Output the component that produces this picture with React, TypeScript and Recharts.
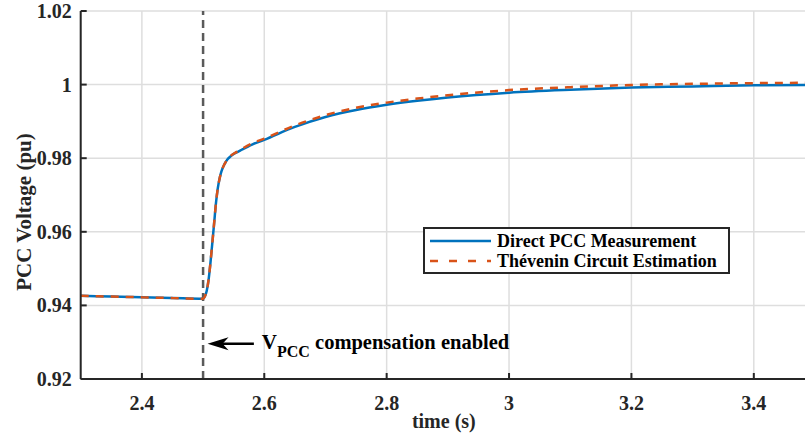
import { FC } from "react";
import {
  LineChart,
  Line,
  XAxis,
  YAxis,
  CartesianGrid,
  ReferenceLine,
  Legend,
} from "recharts";

// time axis (s) and the two voltage traces (pu)
const timeS = [
  2.3, 2.35, 2.4, 2.45, 2.5, 2.503, 2.506, 2.509, 2.512, 2.515, 2.518, 2.521,
  2.524, 2.527, 2.53, 2.535, 2.54, 2.547, 2.555, 2.563, 2.58, 2.6, 2.65, 2.7,
  2.75, 2.8, 2.85, 2.9, 3.0, 3.1, 3.2, 3.3, 3.4, 3.5,
];
const directPcc = [
  0.9426, 0.9424, 0.9422, 0.942, 0.9418, 0.9425, 0.944, 0.947, 0.9515, 0.9568,
  0.9622, 0.9677, 0.9718, 0.9745, 0.9764, 0.9784, 0.9797, 0.9808, 0.9816,
  0.9823, 0.9837, 0.985, 0.9885, 0.9912, 0.9931, 0.9945, 0.9956, 0.9965,
  0.9978, 0.9986, 0.9992, 0.9995, 0.9998, 0.9999,
];
const theveninEst = [
  0.9426, 0.9424, 0.9422, 0.942, 0.9418, 0.9425, 0.944, 0.947, 0.9515, 0.9568,
  0.9622, 0.9677, 0.9718, 0.9745, 0.9764, 0.9784, 0.9797, 0.9809, 0.9817,
  0.9825, 0.984, 0.9853, 0.9889, 0.9917, 0.9937, 0.9951, 0.9962, 0.9971,
  0.9985, 0.9993, 0.9999, 1.0002, 1.0004, 1.0005,
];
const xTicks = [2.4, 2.6, 2.8, 3, 3.2, 3.4];
const yTicks = [0.92, 0.94, 0.96, 0.98, 1, 1.02];
const seriesNames = ["Direct PCC Measurement", "Thévenin Circuit Estimation"];
const compensationTime = 2.5;
const arrowFrom = { x: 2.583, y: 0.9296 };
const arrowTo = { x: 2.5073, y: 0.9296 };

const data = timeS.map((t, i) => ({
  t,
  direct: directPcc[i],
  thevenin: theveninEst[i],
}));

const FONT = '"Liberation Serif", "Times New Roman", serif';
const AXIS = "#262626";
const TICK_LEN = 6;
const X_TICK_MARGIN = 17;
const Y_TICK_MARGIN = 9;

const BottomTick = (props: any) => {
  const { x, y, payload } = props;
  const axisY = y - X_TICK_MARGIN;
  return (
    <g>
      <line x1={x} y1={axisY} x2={x} y2={axisY - TICK_LEN} stroke={AXIS} strokeWidth={2} />
      <text x={x} y={y} dy="0.7em" textAnchor="middle" fontFamily={FONT} fontWeight="bold" fontSize={20} fill={AXIS}>
        {payload.value}
      </text>
    </g>
  );
};

const TopTick = (props: any) => {
  const { x, y } = props;
  return <line x1={x} y1={y} x2={x} y2={y + TICK_LEN} stroke={AXIS} strokeWidth={2} />;
};

const LeftTick = (props: any) => {
  const { x, y, payload } = props;
  const axisX = x + Y_TICK_MARGIN;
  return (
    <g>
      <line x1={axisX} y1={y} x2={axisX + TICK_LEN} y2={y} stroke={AXIS} strokeWidth={2} />
      <text x={x} y={y} dy="0.35em" textAnchor="end" fontFamily={FONT} fontWeight="bold" fontSize={20} fill={AXIS}>
        {payload.value}
      </text>
    </g>
  );
};

const renderArrow = (props: any) => {
  const { x1, y1, x2, y2 } = props;
  return (
    <g>
      <line x1={x1} y1={y1} x2={x2 + 14} y2={y2} stroke="#000" strokeWidth={2.5} />
      <polygon
        points={`${x2},${y2} ${x2 + 21},${y2 - 6.5} ${x2 + 15},${y2} ${x2 + 21},${y2 + 6.5}`}
        fill="#000"
      />
      <text x={x1 + 8} y={y1 + 5} fontFamily={FONT} fontWeight="bold" fontSize={21} fill="#000">
        V
        <tspan dy={8} fontSize={16}>PCC</tspan>
        <tspan dy={-8} fontSize={20.5}> compensation enabled</tspan>
      </text>
    </g>
  );
};

const renderLegend = (props: any) => {
  const { payload } = props;
  return (
    <div
      style={{
        boxSizing: "border-box",
        width: 307,
        height: 47,
        border: `2px solid ${AXIS}`,
        background: "#fff",
        paddingTop: 2,
        fontFamily: FONT,
        fontWeight: "bold",
        fontSize: 18,
        color: "#000",
      }}
    >
      {(payload || []).map((entry: any) => (
        <div key={entry.value} style={{ display: "flex", alignItems: "center", height: 20, paddingLeft: 5 }}>
          <svg width={61} height={6} style={{ marginRight: 6, flexShrink: 0 }}>
            <line
              x1={0}
              y1={3}
              x2={61}
              y2={3}
              stroke={entry.color}
              strokeWidth={2.5}
              strokeDasharray={entry.payload?.strokeDasharray ? "8 11" : undefined}
            />
          </svg>
          <span style={{ whiteSpace: "nowrap", lineHeight: "20px" }}>{entry.value}</span>
        </div>
      ))}
    </div>
  );
};

const App: FC = () => {
  return (
    <div
      style={{
        position: "fixed",
        left: 0,
        top: 0,
        width: 805,
        height: 435,
        overflow: "hidden",
        background: "#fff",
      }}
    >
      <LineChart
        width={830}
        height={435}
        data={data}
        margin={{ top: 11, right: 15, left: 0, bottom: 26 }}
      >
        <CartesianGrid stroke="#dedede" strokeWidth={1.5} />
        <XAxis
          dataKey="t"
          type="number"
          domain={[2.3, 3.5]}
          ticks={xTicks}
          allowDataOverflow
          height={30}
          tickLine={false}
          tickSize={0}
          tickMargin={X_TICK_MARGIN}
          tick={<BottomTick />}
          axisLine={{ stroke: AXIS, strokeWidth: 2 }}
          label={(p: any) => (
            <text
              x={p.viewBox.x + p.viewBox.width / 2 - 4}
              y={428}
              textAnchor="middle"
              fontFamily={FONT}
              fontWeight="bold"
              fontSize={20}
              fill={AXIS}
            >
              time (s)
            </text>
          )}
        />
        <XAxis
          xAxisId="top"
          orientation="top"
          dataKey="t"
          type="number"
          domain={[2.3, 3.5]}
          ticks={xTicks}
          allowDataOverflow
          height={0}
          tickLine={false}
          tickSize={0}
          tickMargin={0}
          tick={<TopTick />}
          axisLine={{ stroke: AXIS, strokeWidth: 2 }}
        />
        <YAxis
          type="number"
          domain={[0.92, 1.02]}
          ticks={yTicks}
          allowDataOverflow
          width={80.7}
          tickLine={false}
          tickSize={0}
          tickMargin={Y_TICK_MARGIN}
          tick={<LeftTick />}
          axisLine={{ stroke: AXIS, strokeWidth: 2 }}
          label={() => (
            <text
              x={31}
              y={212}
              transform="rotate(-90 31 212)"
              textAnchor="middle"
              fontFamily={FONT}
              fontWeight="bold"
              fontSize={21}
              fill={AXIS}
            >
              PCC Voltage (pu)
            </text>
          )}
        />
        <ReferenceLine
          x={compensationTime}
          stroke="#5a5a5a"
          strokeWidth={2.5}
          strokeDasharray="8 5"
        />
        <ReferenceLine
          segment={[arrowFrom, arrowTo]}
          stroke="#000"
          shape={renderArrow}
        />
        <Legend
          layout="horizontal"
          verticalAlign="middle"
          align="center"
          content={renderLegend}
          wrapperStyle={{ left: 423, top: 227, width: 307, height: 47 }}
        />
        <Line
          type="monotone"
          dataKey="direct"
          name={seriesNames[0]}
          stroke="#0072BD"
          strokeWidth={2.5}
          dot={false}
          isAnimationActive={false}
        />
        <Line
          type="monotone"
          dataKey="thevenin"
          name={seriesNames[1]}
          stroke="#D95319"
          strokeWidth={2.5}
          strokeDasharray="8 7"
          dot={false}
          isAnimationActive={false}
        />
      </LineChart>
    </div>
  );
};

export default App;
